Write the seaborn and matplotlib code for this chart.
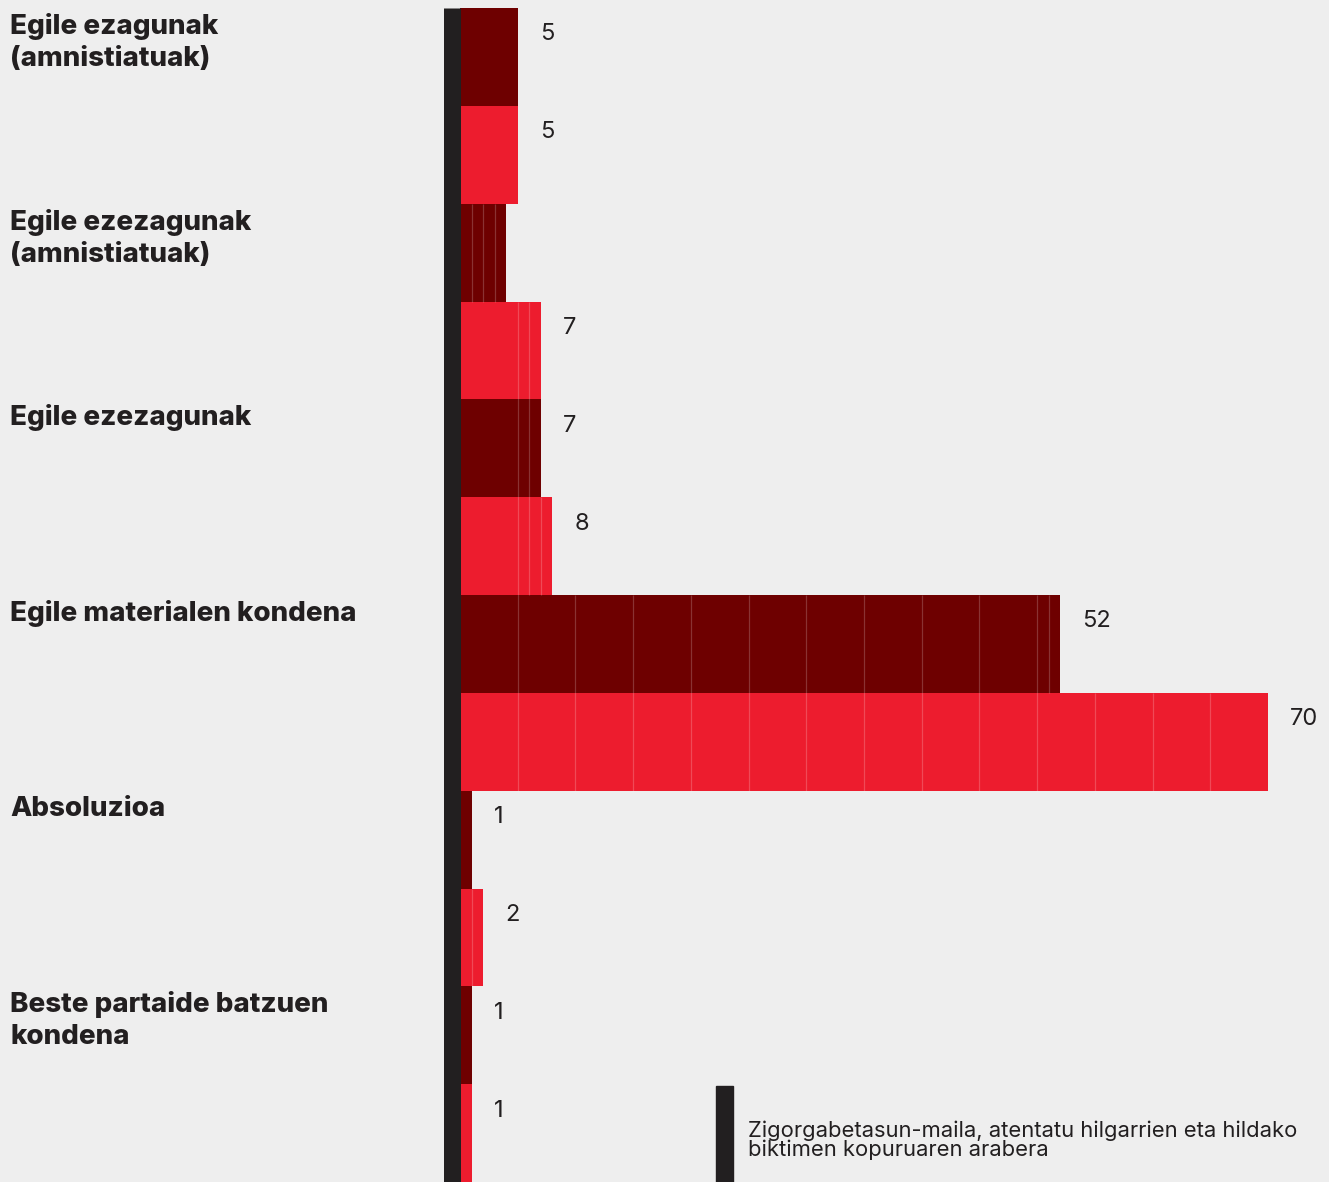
import pandas as pd
import matplotlib
matplotlib.use('Agg')
import matplotlib.pyplot as plt
import matplotlib.transforms as mtransforms
from matplotlib.patches import Rectangle
import seaborn as sns

group_labels = ['Egile ezagunak\n(amnistiatuak)',
                'Egile ezezagunak\n(amnistiatuak)',
                'Egile ezezagunak',
                'Egile materialen kondena',
                'Absoluzioa',
                'Beste partaide batzuen\nkondena']
series = ['atentatuak', 'biktimak']
atentatuak = [5, 4, 7, 52, 1, 1]
biktimak = [5, 7, 8, 70, 2, 1]
# the reference shows no number next to the second dark bar
atentatuak_labels = ['5', '', '7', '52', '1', '1']
biktimak_labels = ['5', '7', '8', '70', '2', '1']
legend_text = ('Zigorgabetasun-maila, atentatu hilgarrien eta hildako\n'
               'biktimen kopuruaren arabera')

BG = '#eeeeee'
DARK = '#6e0000'
RED = '#ed1c2e'
INK = '#221f20'

rows = []
for i, g in enumerate(group_labels):
    rows.append({'row': f'{i}a', 'group': g, 'series': series[0],
                 'value': atentatuak[i], 'label': atentatuak_labels[i]})
    rows.append({'row': f'{i}b', 'group': g, 'series': series[1],
                 'value': biktimak[i], 'label': biktimak_labels[i]})
df = pd.DataFrame(rows)

sns.set_theme(style='white')
plt.rcParams['font.family'] = ['Inter', 'DejaVu Sans']

fig = plt.figure(figsize=(13.29, 11.82), dpi=100, facecolor=BG)
W, H = 1329, 1182
ax = fig.add_axes([460 / W, 0, 1 - 460 / W, 1174 / H])
ax.set_facecolor(BG)

sns.barplot(data=df, y='row', x='value', hue='series', order=df['row'],
            palette={series[0]: DARK, series[1]: RED}, dodge=False,
            saturation=1, width=1.0, orient='h', legend=False, ax=ax,
            linewidth=0)

# thin dividers: blocks of 5, then single units
for i, r in df.iterrows():
    v = r['value']
    steps = [5] * (v // 5) + [1] * (v % 5)
    x = 0
    for s in steps[:-1]:
        x += s
        ax.plot([x, x], [i - 0.5, i + 0.5], color='white', alpha=0.2,
                lw=0.9, solid_capstyle='butt')

for i, r in df.iterrows():
    if r['label']:
        ax.annotate(r['label'], xy=(r['value'], i - 0.5),
                    xytext=(16, -19), textcoords='offset points',
                    ha='left', va='center', fontsize=17, color=INK)

ax.set_xlim(0, (W - 460) / ((1268 - 460) / 70))
ax.set_ylim(11.5, -0.5)
ax.set_xlabel('')
ax.set_ylabel('')
ax.set_xticks([])
ax.set_yticks([])
for s in ['top', 'right', 'bottom']:
    ax.spines[s].set_visible(False)
ax.spines['left'].set_color(INK)
ax.spines['left'].set_linewidth(17 * 72 / 100)
ax.spines['left'].set_position(('outward', 8.5 * 72 / 100))
ax.spines['left'].set_capstyle('butt')

trans = mtransforms.blended_transform_factory(fig.transFigure, ax.transData)
for k, g in enumerate(group_labels):
    ax.text(10 / W, 2 * k - 0.5 + 0.05, g, transform=trans, ha='left',
            va='top', fontsize=20, fontweight='heavy', color=INK,
            linespacing=1.3, clip_on=False)

fig.patches.append(Rectangle((716 / W, 0), 17 / W, 96 / H,
                             transform=fig.transFigure, color=INK))
fig.text(748 / W, 1 - 1140 / H, legend_text, ha='left', va='center',
         fontsize=15.8, color=INK, linespacing=0.9)

fig.savefig('out.png', dpi=100, facecolor=BG)
